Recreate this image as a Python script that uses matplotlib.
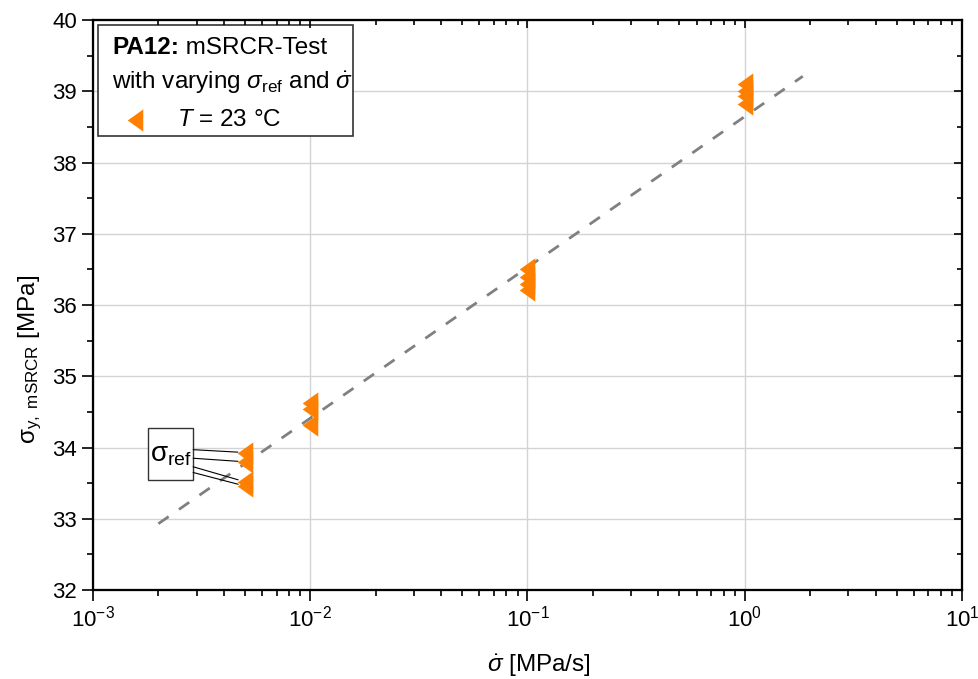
import numpy as np
import matplotlib
matplotlib.use("Agg")
import matplotlib.pyplot as plt
from matplotlib.patches import Rectangle

plt.rcParams['font.family'] = ['Liberation Sans', 'DejaVu Sans']
plt.rcParams['mathtext.fontset'] = 'custom'
plt.rcParams['mathtext.rm'] = 'Liberation Sans'
plt.rcParams['mathtext.it'] = 'Liberation Sans:italic'
plt.rcParams['mathtext.bf'] = 'Liberation Sans:bold'

# Messdaten: Spannungsrate und Fliessspannung (mSRCR)
rate_levels = [0.005, 0.01, 0.1, 1.0]
sigma_y = [
    [33.93, 33.80, 33.52, 33.46],
    [34.63, 34.54, 34.31],
    [36.50, 36.40, 36.30, 36.21],
    [39.10, 39.00, 38.93, 38.82],
]

# Regressionsgerade (log-linear)
fit_x = [0.002, 1.85]
fit_a = 38.645   # Wert bei 1 MPa/s
fit_b = 2.117    # Steigung pro Dekade

# sigma_ref Markierung: Kasten und Startpunkte der Linien
ref_box = (0.00179, 33.54, 0.00289, 34.28)   # x0, y0, x1, y1
ref_line_y0 = [33.97, 33.85, 33.73, 33.65]

orange = '#FF8000'
xlim = (1e-3, 1e1)
ylim = (32, 40)

fig = plt.figure(figsize=(9.79, 6.79), dpi=100)
ax = fig.add_axes([0.095, 0.131, 0.8876, 0.8395])

# Messpunkte
tri = [(-0.7, 0.0), (0.7, 1.0), (0.7, -1.0), (-0.7, 0.0)]
for xv, ys in zip(rate_levels, sigma_y):
    ax.plot([xv] * len(ys), ys, linestyle='none', marker=tri,
            markersize=16, color=orange, markeredgewidth=0, zorder=4)

# Fit
fx = np.array(fit_x)
ax.plot(fx, fit_a + fit_b * np.log10(fx), color='#808080', lw=2,
        dashes=(4.5, 4.5), zorder=3)

ax.set_xscale('log')
ax.set_xlim(*xlim)
ax.set_ylim(*ylim)
ax.set_yticks(np.arange(32, 41, 1))
ax.set_yticks(np.arange(32.5, 40, 1), minor=True)

ax.grid(True, which='major', color='#d3d3d3', lw=1)
ax.set_axisbelow(True)

ax.tick_params(axis='both', which='both', labelsize=16, width=1.2, direction='out')
ax.tick_params(axis='both', which='major', length=8)
ax.tick_params(axis='both', which='minor', length=4.5)
for s in ax.spines.values():
    s.set_linewidth(1.5)

# Ticks oben / rechts nach innen
axt = ax.twiny()
axt.set_xscale('log')
axt.set_xlim(*xlim)
axt.tick_params(axis='x', which='both', direction='in', labeltop=False, width=1.2)
axt.tick_params(axis='x', which='major', length=6)
axt.tick_params(axis='x', which='minor', length=3.5)
axr = ax.twinx()
axr.set_ylim(*ylim)
axr.set_yticks(np.arange(32, 41, 1))
axr.set_yticks(np.arange(32.5, 40, 1), minor=True)
axr.tick_params(axis='y', which='both', direction='in', labelright=False, width=1.2)
axr.tick_params(axis='y', which='major', length=6)
axr.tick_params(axis='y', which='minor', length=3.5)
for a in (axt, axr):
    for s in a.spines.values():
        s.set_linewidth(1.5)

ax.set_xlabel(r'$\dot{\sigma}$ [MPa/s]', fontsize=17.5)
ax.xaxis.set_label_coords(0.513, -0.11)
ax.set_ylabel(r'$\mathrm{\sigma}_{\mathrm{y,\ mSRCR}}$ [MPa]', fontsize=17.5, va='center')
ax.yaxis.set_label_coords(-0.072, 0.405)

# Legenden-Kasten
ax.add_patch(Rectangle((0.0058, 0.796), 0.293, 0.195, transform=ax.transAxes,
                       facecolor='white', edgecolor='#333333', lw=1.2, zorder=5))
t1 = ax.text(0.0219, 0.940, 'PA12:', transform=ax.transAxes, fontsize=17.5,
             fontweight='bold', va='baseline', zorder=6)
ax.annotate(' mSRCR-Test', xy=(1, 0), xycoords=t1, fontsize=17.5,
            va='bottom', ha='left', zorder=6)
ax.text(0.0219, 0.879, r'with varying $\sigma_{\mathrm{ref}}$ and $\dot{\sigma}$',
        transform=ax.transAxes, fontsize=17.5, zorder=6)
ax.plot([0.048], [0.825], marker=tri, markersize=16, color=orange,
        markeredgewidth=0, transform=ax.transAxes, zorder=6, clip_on=False)
ax.text(0.0967, 0.814, r'$T$ = 23 °C', transform=ax.transAxes, fontsize=17.5, zorder=6)

# sigma_ref Kasten mit Linien
bx0, by0, bx1, by1 = ref_box
ax.add_patch(Rectangle((bx0, by0), bx1 - bx0, by1 - by0, facecolor='white',
                       edgecolor='#333333', lw=1, zorder=5))
ax.text(np.sqrt(bx0 * bx1), 33.90, r'$\mathrm{\sigma}_{\mathrm{ref}}$', fontsize=20,
        ha='center', va='center', zorder=6)
for y0, y1 in zip(ref_line_y0, sigma_y[0]):
    ax.annotate('', xy=(rate_levels[0], y1), xytext=(bx1, y0),
                arrowprops=dict(arrowstyle='-', color='black', lw=0.8,
                                shrinkA=0, shrinkB=5), zorder=5)

fig.savefig('out.png', dpi=100)
